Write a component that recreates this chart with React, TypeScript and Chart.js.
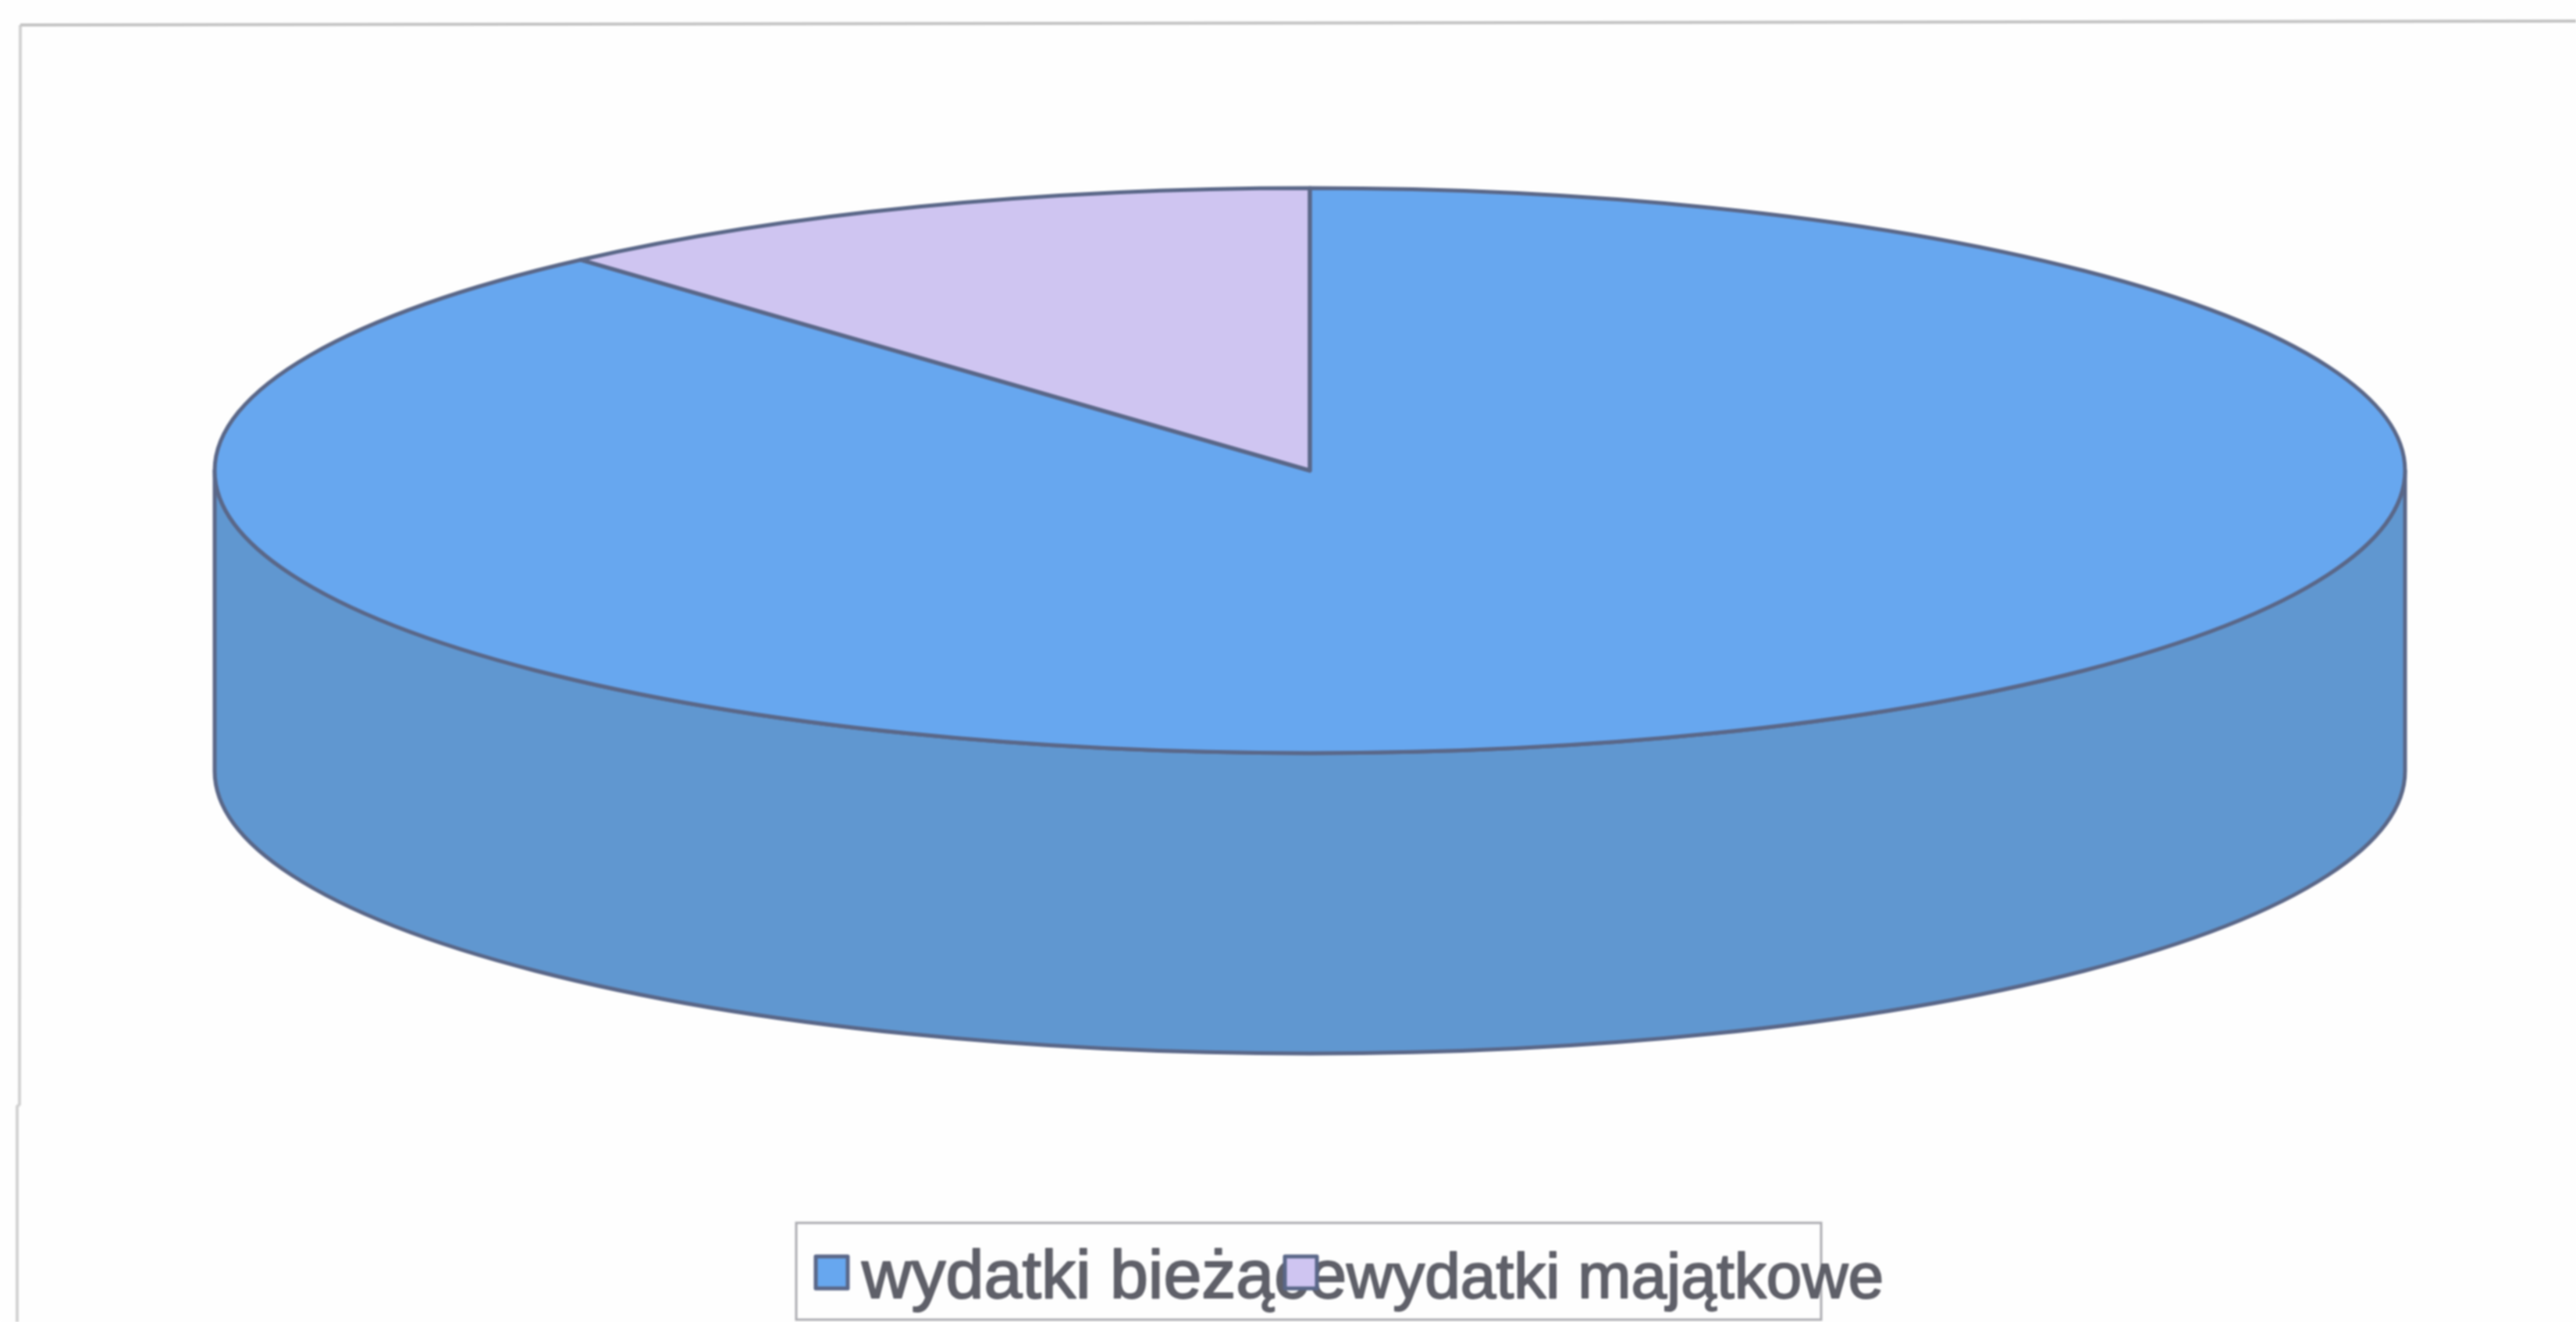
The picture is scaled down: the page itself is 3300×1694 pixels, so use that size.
import React, { useEffect, useRef } from "react";
import { Chart, registerables } from "chart.js";

Chart.register(...registerables);

const categories = ["wydatki bieżące", "wydatki majątkowe"];
const shares = [88.4, 11.6];
const topColors = ["#67a7ef", "#cfc5f1"];
const wallColors = ["#6097d0", "#b3aad4"];

const W = 3300;
const H = 1694;
const CX = 1678;
const CY = 603;
const RX = 1403;
const RY = 362;
const DEPTH = 385;
const EDGE = "#5a6788";

const pageBackground = {
  id: "pageBackground",
  beforeDraw(chart: any) {
    const { ctx } = chart;
    ctx.save();
    ctx.fillStyle = "#fefefe";
    ctx.fillRect(0, 0, W, H);
    ctx.lineWidth = 4;
    ctx.strokeStyle = "#d2d2d2";
    ctx.beginPath();
    ctx.moveTo(22, H);
    ctx.lineTo(22, 1418);
    ctx.lineTo(25, 1415);
    ctx.lineTo(26, 32);
    ctx.stroke();
    ctx.strokeStyle = "#c4c4c4";
    ctx.beginPath();
    ctx.moveTo(26, 32);
    ctx.lineTo(W, 27);
    ctx.stroke();
    ctx.restore();
  },
};

const pie3d = {
  id: "pie3d",
  beforeDatasetsDraw(chart: any) {
    const { ctx } = chart;
    const arcs = chart.getDatasetMeta(0).data;
    ctx.save();
    ctx.lineWidth = 5;
    ctx.strokeStyle = EDGE;
    ctx.lineJoin = "round";
    arcs.forEach((arc: any, i: number) => {
      const { startAngle, endAngle } = arc.getProps(["startAngle", "endAngle"]);
      [[0, Math.PI], [2 * Math.PI, 3 * Math.PI]].forEach(([lo, hi]) => {
        const s = Math.max(startAngle, lo);
        const e = Math.min(endAngle, hi);
        if (e <= s) return;
        ctx.beginPath();
        ctx.ellipse(CX, CY, RX, RY, 0, s, e);
        ctx.ellipse(CX, CY + DEPTH, RX, RY, 0, e, s, true);
        ctx.closePath();
        ctx.fillStyle = wallColors[i];
        ctx.fill();
        ctx.stroke();
      });
    });
    ctx.restore();

    const first = arcs[0].getProps(["x", "y", "outerRadius"]);
    ctx.save();
    ctx.translate(CX, CY);
    ctx.scale(RX / first.outerRadius, RY / first.outerRadius);
    ctx.translate(-first.x, -first.y);
  },
  afterDatasetsDraw(chart: any) {
    const { ctx } = chart;
    ctx.restore();
    const arcs = chart.getDatasetMeta(0).data;
    ctx.save();
    ctx.lineWidth = 5;
    ctx.strokeStyle = EDGE;
    ctx.lineJoin = "round";
    arcs.forEach((arc: any) => {
      const { startAngle, endAngle } = arc.getProps(["startAngle", "endAngle"]);
      ctx.beginPath();
      ctx.moveTo(CX, CY);
      ctx.ellipse(CX, CY, RX, RY, 0, startAngle, endAngle);
      ctx.closePath();
      ctx.stroke();
    });
    ctx.restore();
  },
};

const overlappingLegend = {
  id: "overlappingLegend",
  afterDraw(chart: any) {
    const { ctx } = chart;
    const labels = chart.data.labels as string[];
    const colors = chart.data.datasets[0].backgroundColor as string[];
    const swatchX = [1045, 1646];
    const textX = [1104, 1725];
    const fontPx = [88, 82];
    ctx.save();
    ctx.strokeStyle = "#adadb2";
    ctx.lineWidth = 3;
    ctx.strokeRect(1020, 1567, 1313, 124);
    ctx.textBaseline = "alphabetic";
    ctx.textAlign = "left";
    ctx.lineJoin = "round";
    labels.forEach((label, i) => {
      ctx.fillStyle = "#5f6069";
      ctx.strokeStyle = "#5f6069";
      ctx.lineWidth = 2;
      ctx.font = `${fontPx[i]}px "Liberation Sans"`;
      ctx.fillText(label, textX[i], 1663);
      ctx.strokeText(label, textX[i], 1663);
    });
    labels.forEach((_, i) => {
      ctx.fillStyle = colors[i];
      ctx.strokeStyle = EDGE;
      ctx.lineWidth = 5;
      ctx.fillRect(swatchX[i], 1610, 41, 41);
      ctx.strokeRect(swatchX[i], 1610, 41, 41);
    });
    ctx.restore();
  },
};

export default function App() {
  const ref = useRef<HTMLCanvasElement>(null);
  useEffect(() => {
    document.body.style.margin = "0";
    const chart = new Chart(ref.current!, {
      type: "pie",
      data: {
        labels: categories,
        datasets: [
          {
            data: shares,
            backgroundColor: topColors,
            borderWidth: 0,
          },
        ],
      },
      options: {
        responsive: false,
        animation: false,
        layout: { padding: 0 },
        plugins: {
          legend: { display: false },
          title: { display: false },
          tooltip: { enabled: false },
        },
      },
      plugins: [pageBackground, pie3d, overlappingLegend],
    } as any);
    return () => chart.destroy();
  }, []);
  return (
    <canvas
      ref={ref}
      width={W}
      height={H}
      style={{ display: "block", width: W, height: H, filter: "blur(1.2px)" }}
    />
  );
}
